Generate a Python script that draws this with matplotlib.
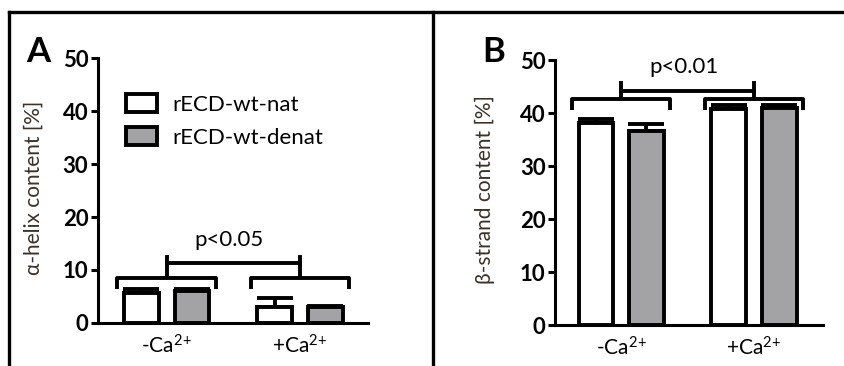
import matplotlib
matplotlib.use("Agg")
import matplotlib.pyplot as plt
from matplotlib.lines import Line2D
from matplotlib.patches import Patch
import numpy as np

plt.rcParams['font.family'] = ['Lato', 'DejaVu Sans']
plt.rcParams['mathtext.default'] = 'regular'

groups = ['-Ca$^{2\\!+}$', '+Ca$^{2\\!+}$']
series = ['rECD-wt-nat', 'rECD-wt-denat']

helix_nat = [5.7, 3.0]
helix_nat_err = [0.8, 1.7]
helix_denat = [6.0, 3.0]
helix_denat_err = [0.4, 0.3]

strand_nat = [38.1, 40.8]
strand_nat_err = [0.8, 0.7]
strand_denat = [36.6, 40.9]
strand_denat_err = [1.4, 0.6]

fills = ['white', '#a3a3a6']
lw = 2.8
width = 0.26
off = 0.19


def panel(ax, vals, errs, ylabel, ptext, xl, gap, sgap, tick):
    x = np.arange(len(groups))
    for i, (v, e) in enumerate(zip(vals, errs)):
        xs = x + (2 * i - 1) * off
        ax.errorbar(xs, v, yerr=[np.zeros(len(e)), e], fmt='none',
                    ecolor='black', elinewidth=lw, capsize=13, capthick=lw, zorder=2)
        ax.bar(xs, v, width, color=fills[i], edgecolor='black', linewidth=lw,
               label=series[i], zorder=3)

    # group brackets
    top = np.max(np.array(vals) + np.array(errs), axis=0)
    hb = max(top) + gap
    for xi in x:
        ax.plot([xi - 0.37, xi - 0.37, xi + 0.37, xi + 0.37],
                [hb - 2.1, hb, hb, hb - 2.1], color='black', lw=lw,
                solid_joinstyle='round', solid_capstyle='butt', clip_on=False)
    # significance bar
    hs = hb + sgap
    ax.plot([0, 1], [hs, hs], color='black', lw=lw, clip_on=False)
    for xi in x:
        ax.plot([xi, xi], [hs - tick[0], hs + tick[1]], color='black', lw=lw, clip_on=False)
    ax.text(0.47, hs + tick[1] + 1.2, ptext, ha='center', va='bottom', fontsize=16)

    ax.set_ylim(0, 50)
    ax.set_xlim(*xl)
    ax.set_yticks([0, 10, 20, 30, 40, 50])
    ax.set_xticks(x)
    ax.set_xticklabels(groups, fontsize=15)
    for t in ax.get_yticklabels():
        t.set_fontweight('bold')
        t.set_fontsize(16)
    ax.tick_params(axis='y', length=5, width=2.2, pad=2)
    ax.tick_params(axis='x', length=0, pad=8)
    for s in ['top', 'right']:
        ax.spines[s].set_visible(False)
    for s in ['left', 'bottom']:
        ax.spines[s].set_linewidth(2.2)
    ax.set_ylabel(ylabel, fontsize=15, color='#3b3129')


fig = plt.figure(figsize=(8.45, 3.66), dpi=100)

axA = fig.add_axes([0.116, 0.1175, 0.3195, 0.724])
panel(axA, [helix_nat, helix_denat], [helix_nat_err, helix_denat_err],
      '\u03b1-helix content [%]', 'p<0.05', (-0.513, 1.509), 2.0, 2.8, (2.2, 1.2))
axA.yaxis.set_label_coords(-0.2, 0.51)
handles = [Patch(facecolor=fills[i], edgecolor='black', linewidth=lw) for i in range(2)]
axA.legend(handles, series, loc='upper left', bbox_to_anchor=(0.03, 0.94), frameon=False,
           fontsize=16, handlelength=1.4, handleheight=0.9, handletextpad=0.7, labelspacing=0.55)

axB = fig.add_axes([0.657, 0.112, 0.317, 0.724])
panel(axB, [strand_nat, strand_denat], [strand_nat_err, strand_denat_err],
      '\u03b2-strand content [%]', 'p<0.01', (-0.496, 1.519), 1.1, 1.6, (1.6, 1.4))
axB.yaxis.set_label_coords(-0.224, 0.51)

fig.text(0.031, 0.83, 'A', fontsize=25, fontweight='bold')
fig.text(0.571, 0.83, 'B', fontsize=25, fontweight='bold')

# outer frame of the figure
fig.add_artist(Line2D([0.0107, 1.0], [0.967, 0.967], color='black', lw=2.4))
fig.add_artist(Line2D([0.0107, 0.0107], [0.0, 0.967], color='black', lw=2.4))
fig.add_artist(Line2D([0.5124, 0.5124], [0.0, 0.967], color='black', lw=2.4))

fig.savefig('out.png', dpi=100)
